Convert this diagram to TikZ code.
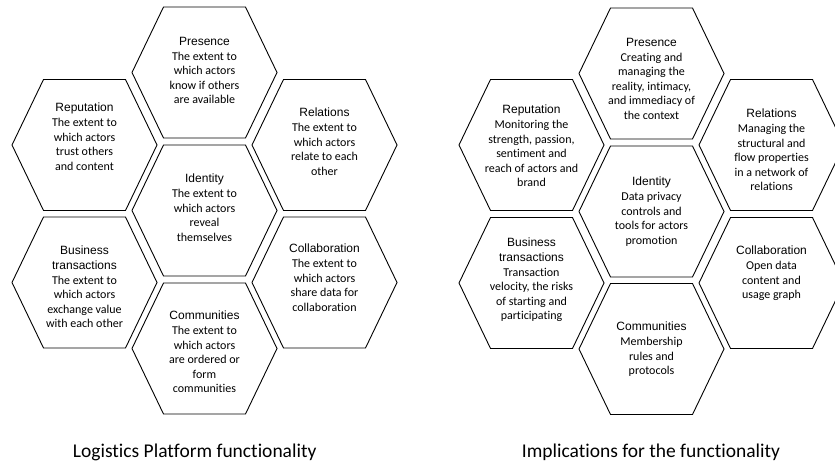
\documentclass[tikz,border=0pt]{standalone}
\usepackage{fontspec}
\setmainfont[Ligatures={NoCommon}]{Carlito}
\newfontfamily\titlefont{Liberation Sans}
\newcommand\cellhead[1]{{\titlefont #1}}
\begin{document}
\begin{tikzpicture}[x=1bp,y=-1bp,
  hexline/.style={draw=black, line width=0.9bp, line join=miter},
  celltext/.style={align=center, inner sep=0pt, anchor=north,
    font=\fontsize{12bp}{14.6bp}\selectfont},
  caption/.style={inner sep=0pt, anchor=base,
    font=\fontsize{19.5bp}{23bp}\selectfont},
  hexcell/.pic={\path[hexline] (-72.5,0) -- (-41,-65.5) -- (41,-65.5)
    -- (72.5,0) -- (41,65.5) -- (-41,65.5) -- cycle;}
]
\clip (0,0) rectangle (835,463);
\fill[white] (0,0) rectangle (835,463);

% ---- left honeycomb: platform functionality ----
\pic (lpresh) at (204.5,72.5)  {hexcell};
\pic (lreph)  at (84.5,145)    {hexcell};
\pic (lrelh)  at (324.5,145)   {hexcell};
\pic (lidh)   at (204.5,210.5) {hexcell};
\pic (lbush)  at (84.5,282.5)  {hexcell};
\pic (lcolh)  at (324.5,282.5) {hexcell};
\pic (lcomh)  at (204.5,348.5) {hexcell};

\node[celltext] (lpres) at (204.5,37) {\cellhead{Presence}\\The extent to\\which actors\\know if others\\are available};
\node[celltext] (lrep) at (84.5,103) {\cellhead{Reputation}\\The extent to\\which actors\\trust others\\and content};
\node[celltext] (lrel) at (324.5,108) {\cellhead{Relations}\\The extent to\\which actors\\relate to each\\other};
\node[celltext] (lid) at (204.5,174) {\cellhead{Identity}\\The extent to\\which actors\\reveal\\themselves};
\node[celltext] (lbus) at (84.5,246) {\cellhead{Business}\\\cellhead{transactions}\\The extent to\\which actors\\exchange value\\with each other};
\node[celltext] (lcol) at (324.5,244) {\cellhead{Collaboration}\\The extent to\\which actors\\share data for\\collaboration};
\node[celltext] (lcom) at (204.5,311) {\cellhead{Communities}\\The extent to\\which actors\\are ordered or\\form\\communities};

\node[caption] (lcap) at (194.7,457) {Logistics Platform functionality};

% ---- right honeycomb: implications ----
\pic (rpresh) at (651.5,73.5) {hexcell};
\pic (rreph)  at (531.5,145)  {hexcell};
\pic (rrelh)  at (771.5,145)  {hexcell};
\pic (ridh)   at (651.5,211.5){hexcell};
\pic (rbush)  at (531.5,283)  {hexcell};
\pic (rcolh)  at (771.5,283)  {hexcell};
\pic (rcomh)  at (651.5,349)  {hexcell};

\node[celltext] (rpres) at (651.5,38) {\cellhead{Presence}\\Creating and\\managing the\\reality, intimacy,\\and immediacy of\\the context};
\node[celltext] (rrep) at (531.5,105) {\cellhead{Reputation}\\Monitoring the\\strength, passion,\\sentiment and\\reach of actors and\\brand};
\node[celltext] (rrel) at (771.5,109) {\cellhead{Relations}\\Managing the\\structural and\\flow properties\\in a network of\\relations};
\node[celltext] (rid) at (651.5,177) {\cellhead{Identity}\\Data privacy\\controls and\\tools for actors\\promotion};
\node[celltext] (rbus) at (531.5,238) {\cellhead{Business}\\\cellhead{transactions}\\Transaction\\velocity, the risks\\of starting and\\participating};
\node[celltext] (rcol) at (771.5,246) {\cellhead{Collaboration}\\Open data\\content and\\usage graph};
\node[celltext] (rcom) at (651.5,322) {\cellhead{Communities}\\Membership\\rules and\\protocols};

\node[caption] (rcap) at (651,457) {Implications for the functionality};
\end{tikzpicture}
\end{document}
